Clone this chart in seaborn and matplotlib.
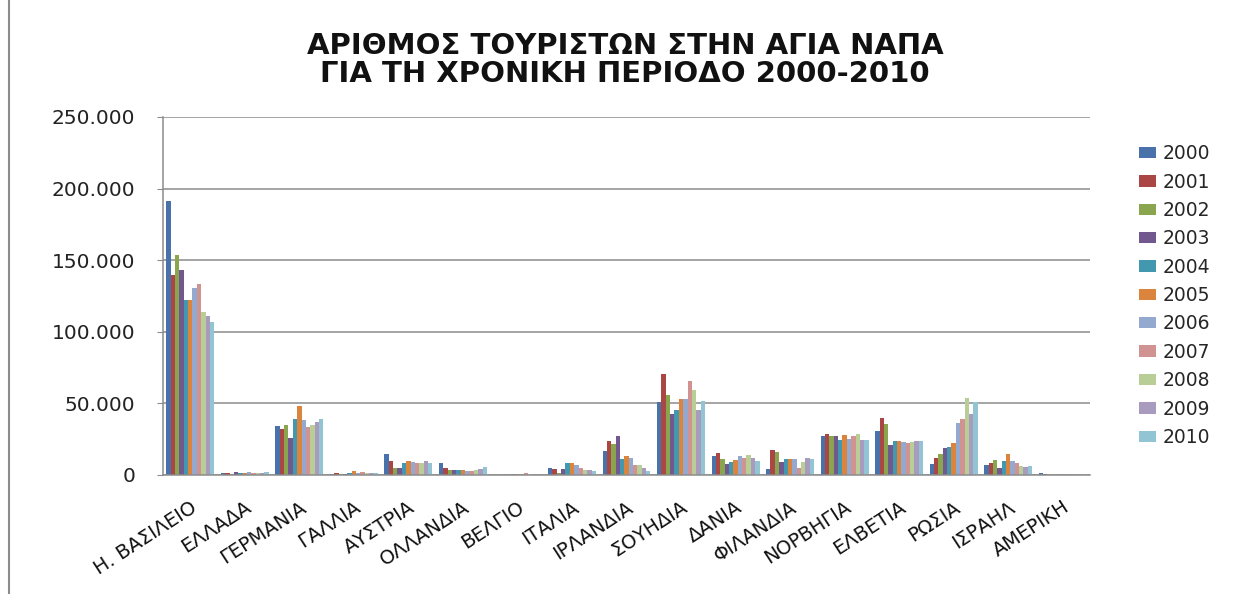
import matplotlib
matplotlib.use("Agg")
import matplotlib.pyplot as plt
from matplotlib.ticker import FuncFormatter, MultipleLocator
from matplotlib.lines import Line2D
from matplotlib.transforms import ScaledTranslation
import seaborn as sns
import pandas as pd

countries = ["Η. ΒΑΣΙΛΕΙΟ", "ΕΛΛΑΔΑ", "ΓΕΡΜΑΝΙΑ", "ΓΑΛΛΙΑ", "ΑΥΣΤΡΙΑ", "ΟΛΛΑΝΔΙΑ",
             "ΒΕΛΓΙΟ", "ΙΤΑΛΙΑ", "ΙΡΛΑΝΔΙΑ", "ΣΟΥΗΔΙΑ", "ΔΑΝΙΑ", "ΦΙΛΑΝΔΙΑ",
             "ΝΟΡΒΗΓΙΑ", "ΕΛΒΕΤΙΑ", "ΡΩΣΙΑ", "ΙΣΡΑΗΛ", "ΑΜΕΡΙΚΗ"]
years = ["2000", "2001", "2002", "2003", "2004", "2005", "2006", "2007", "2008", "2009", "2010"]

uk = [191300, 139700, 153500, 143200, 121900, 122400, 130600, 133200, 113800, 111200, 106500]
greece = [1500, 1500, 1000, 2000, 1300, 1300, 1800, 1400, 1400, 1400, 1800]
germany = [33900, 32000, 34600, 25500, 39200, 48400, 38500, 33200, 34600, 37100, 39200]
france = [900, 1600, 900, 900, 1600, 2800, 1600, 2100, 1600, 1400, 1400]
austria = [14650, 10000, 4650, 4650, 8100, 10000, 8800, 8100, 8100, 10000, 8100]
netherlands = [8100, 4650, 3500, 3500, 3500, 3500, 2800, 2800, 3700, 4200, 5350]
belgium = [0, 0, 0, 0, 600, 700, 800, 1200, 700, 0, 0]
italy = [4650, 4000, 1600, 4200, 8100, 8100, 6750, 4650, 3500, 3500, 2800]
ireland = [16700, 23400, 21300, 27100, 10900, 13400, 12000, 6700, 6700, 4900, 2800]
sweden = [50700, 70400, 56000, 42800, 45400, 53200, 53200, 65700, 59300, 45400, 51900]
denmark = [13400, 15300, 10900, 7400, 8800, 10200, 13400, 12000, 14100, 12000, 9500]
finland = [4200, 17400, 16000, 8800, 11300, 11300, 11300, 4900, 8800, 12000, 11300]
norway = [27000, 28400, 27000, 27000, 24200, 27700, 24900, 27000, 28400, 24200, 24200]
switzerland = [30500, 39500, 35800, 21200, 24000, 24000, 23300, 22600, 23300, 24000, 24000]
russia = [7400, 12100, 14650, 18600, 19300, 22600, 36500, 39100, 53500, 42300, 50900]
israel = [6750, 8100, 10700, 4650, 10000, 14650, 10000, 8100, 6050, 5350, 6050]
america = [1600, 900, 200, 200, 200, 800, 700, 200, 200, 200, 700]

series = [uk, greece, germany, france, austria, netherlands, belgium, italy, ireland,
          sweden, denmark, finland, norway, switzerland, russia, israel, america]

colors = ["#4A72AA", "#AA4643", "#89A54E", "#71588F", "#4198AF", "#DB843D",
          "#93A9CF", "#D19392", "#B9CD96", "#A99BBD", "#92C5D3"]

rows = []
for c, vals in zip(countries, series):
    for y, v in zip(years, vals):
        rows.append({"country": c, "year": y, "value": v})
df = pd.DataFrame(rows)

sns.set_style("white")
plt.rcParams["font.family"] = ["DejaVu Sans"]

fig = plt.figure(figsize=(12.43, 5.94), dpi=100)
ax = fig.add_axes([163 / 1243, 1 - 475 / 594, (1090 - 163) / 1243, (475 - 117) / 594])

sns.barplot(data=df, x="country", y="value", hue="year", order=countries,
            hue_order=years, palette=dict(zip(years, colors)), width=0.88,
            linewidth=0, saturation=1, ax=ax, errorbar=None)

ax.set_ylim(0, 250000)
ax.yaxis.set_major_locator(MultipleLocator(50000))
ax.yaxis.set_major_formatter(FuncFormatter(lambda v, p: f"{v:,.0f}".replace(",", ".")))
ax.grid(axis="y", color="#8C8C8C", linewidth=1.1)
ax.set_axisbelow(True)
ax.set_xlabel("")
ax.set_ylabel("")
for s in ["top", "right"]:
    ax.spines[s].set_visible(False)
for s in ["left", "bottom"]:
    ax.spines[s].set_color("#8C8C8C")
    ax.spines[s].set_linewidth(1.1)

ax.tick_params(axis="y", left=True, length=4, color="#8C8C8C", pad=16, labelsize=14.5,
               labelcolor="#222222")
ax.tick_params(axis="x", bottom=False, length=0, pad=22, labelsize=14, labelcolor="#111111")
shift = ScaledTranslation(5 / 100, 0, fig.dpi_scale_trans)
for lab in ax.get_xticklabels():
    lab.set_rotation(33)
    lab.set_ha("right")
    lab.set_va("center")
    lab.set_rotation_mode("anchor")
    lab.set_transform(lab.get_transform() + shift)

fig.suptitle("ΑΡΙΘΜΟΣ ΤΟΥΡΙΣΤΩΝ ΣΤΗΝ ΑΓΙΑ ΝΑΠΑ\nΓΙΑ ΤΗ ΧΡΟΝΙΚΗ ΠΕΡΙΟΔΟ 2000-2010",
             x=0.503, y=1 - 32 / 594, va="top", fontsize=21, fontweight="bold",
             linespacing=1.02, color="#111111")

handles, labels = ax.get_legend_handles_labels()
if ax.legend_:
    ax.legend_.remove()
fig.legend(handles, labels, loc="center left", bbox_to_anchor=(1139 / 1243, 0.5025),
           frameon=False, fontsize=13.5, handlelength=0.9, handleheight=0.55,
           handletextpad=0.37, labelspacing=0.5, borderpad=0, borderaxespad=0)

fig.add_artist(Line2D([9 / 1243, 9 / 1243], [0, 1], color="#8C8C8C", linewidth=1.5))

fig.savefig("out.png", dpi=100)
